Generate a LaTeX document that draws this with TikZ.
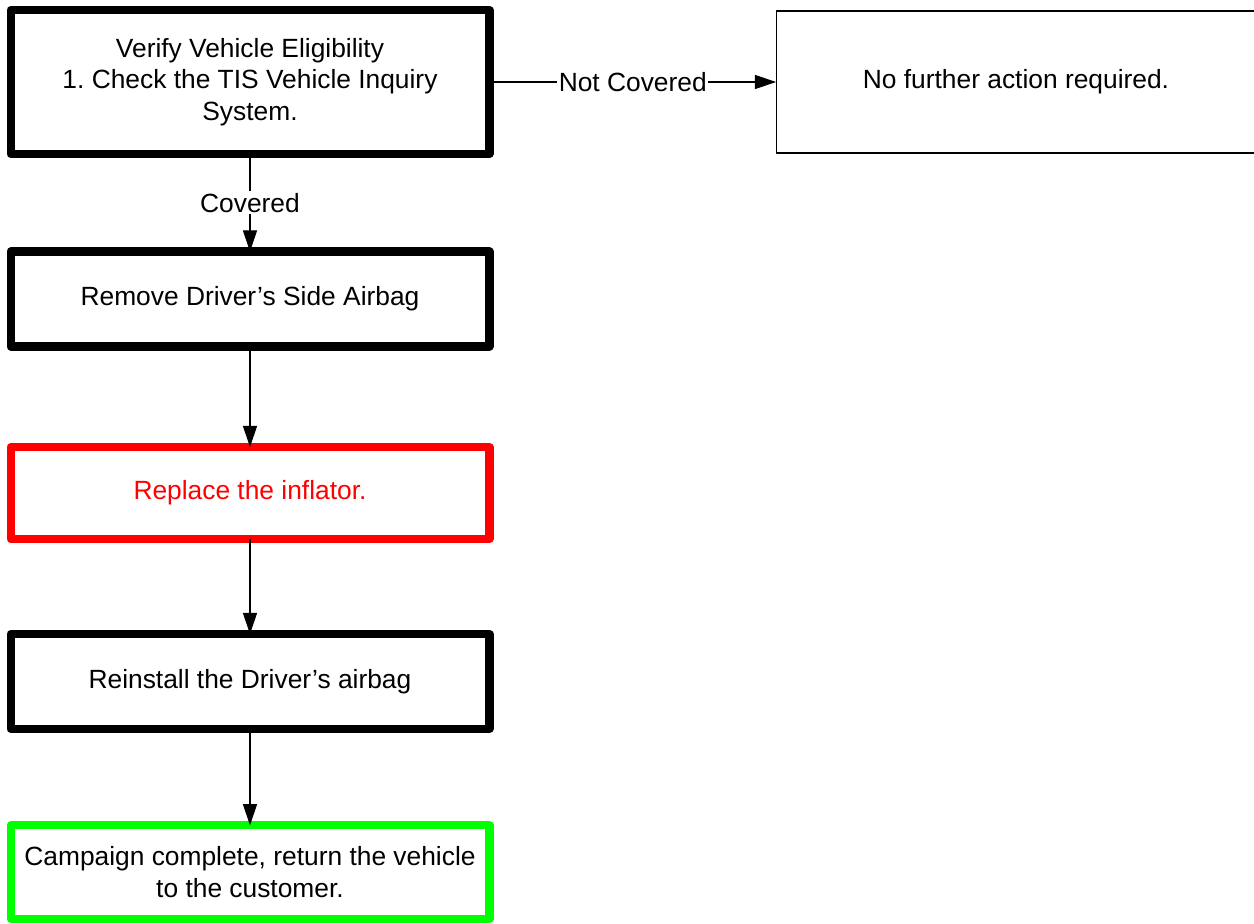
\documentclass[tikz,border=0pt]{standalone}
\usepackage{fontspec}
\setmainfont{Liberation Sans}
\usetikzlibrary{arrows.meta}
\definecolor{purered}{RGB}{255,0,0}
\definecolor{puregreen}{RGB}{0,255,0}
\frenchspacing
\begin{document}
\begin{tikzpicture}[x=0.02cm, y=-0.02cm, font=\fontsize{15}{18}\selectfont, line join=round, >={Triangle[length=12pt,width=8pt]},
	box/.style={draw, line width=4.6pt, outer sep=0pt, align=center, minimum width=9.58cm},
	link/.style={->, line width=0.6pt},
	lbl/.style={fill=white, inner sep=1pt}]
				\useasboundingbox (0,0) rectangle (1254,923);
				\clip (0,0) rectangle (1254,923);
				\node[box, minimum height=2.88cm] (V) at (250,82) {Verify Vehicle Eligibility\\1. Check the TIS Vehicle Inquiry\\System.};
				\node[box, line width=0.6pt, minimum width=9.6cm, minimum height=2.84cm] (N) at (1016,82) {No further action required.};
				\node[box, minimum height=1.9cm] (D) at (250,299) {Remove Driver’s Side Airbag};
				\node[box, draw=purered, text=purered, minimum height=1.84cm] (I) at (250,493) {Replace the inflator.};
				\node[box, minimum height=1.9cm] (R) at (250,681.5) {Reinstall the Driver’s airbag};
				\node[box, draw=puregreen, minimum height=1.87cm] (C) at (250,872) {Campaign complete, return the vehicle\\to the customer.};
				
				\draw[link] (V) -- node[lbl]{Covered} (D);
				\draw[link] (V) -- node[lbl]{Not Covered} (N);
				\foreach \a/\b in {D/I,I/R,R/C}
				\draw[link] (\a) -- (\b);
			\end{tikzpicture}
\end{document}
